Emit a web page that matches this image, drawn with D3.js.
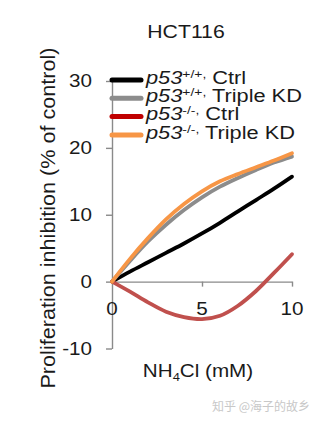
<!DOCTYPE html>
<html>
<head>
<meta charset="utf-8">
<script src="https://cdn.jsdelivr.net/npm/d3@7"></script>
<style>
  html, body { margin: 0; padding: 0; background: #fff; }
  svg { display: block; }
  text { font-family: "Liberation Sans", Arial, sans-serif; fill: #1a1a1a; }
</style>
</head>
<body>
<svg id="chart" width="332" height="427"></svg>
<script>
// ---- data ----
const doses = [0, 1, 2, 3, 4, 5, 6, 7, 8, 9, 10];
const wtCtrl = [0, 1.5, 2.9, 4.3, 5.7, 7.2, 8.8, 10.5, 12.2, 13.9, 15.7];
const wtTripleKD = [0, 3.1, 6.0, 8.5, 10.7, 12.6, 14.2, 15.5, 16.7, 17.8, 18.7];
const koCtrl = [0, -1.5, -3.1, -4.5, -5.3, -5.6, -5.1, -3.6, -1.4, 1.3, 4.1];
const koTripleKD = [0, 3.4, 6.5, 9.3, 11.6, 13.5, 15.0, 16.1, 17.1, 18.1, 19.2];
const yTicks = [-10, 0, 10, 20, 30];
const xTicks = [0, 5, 10];
const seriesNames = ["wtCtrl", "wtTripleKD", "koCtrl", "koTripleKD"];
const legendSup = ["+/+,", "+/+,", "-/-,", "-/-,"];
const legendRest = [" Ctrl", " Triple KD", " Ctrl", " Triple KD"];

const series = [
  { name: "wtCtrl", values: wtCtrl, color: "#000000", legendColor: "#000000" },
  { name: "wtTripleKD", values: wtTripleKD, color: "#8c8c8c", legendColor: "#8c8c8c" },
  { name: "koCtrl", values: koCtrl, color: "#c0504d", legendColor: "#c00000" },
  { name: "koTripleKD", values: koTripleKD, color: "#f79646", legendColor: "#f79646" }
];

const svg = d3.select("#chart");
const SX = 1.18;     // horizontal stretch of the reference text
const FS = 17.5;

const x = d3.scaleLinear().domain([0, 10]).range([112, 292]);
const y = d3.scaleLinear().domain([-10, 30]).range([348.5, 81]);
const axisColor = "#8a8a8a";

// title
svg.append("text")
  .attr("transform", `translate(186,38) scale(${SX},1)`)
  .attr("text-anchor", "middle")
  .style("font-size", "18px")
  .text("HCT116");

// y axis
const yAxis = svg.append("g").attr("transform", `translate(${x(0)},0)`)
  .call(d3.axisLeft(y).tickValues(yTicks).tickSize(6).tickSizeOuter(0).tickFormat(""));
yAxis.selectAll("path, line").attr("stroke", axisColor).attr("stroke-width", 1.4);

svg.append("g").selectAll("text").data(yTicks).join("text")
  .attr("transform", d => `translate(92,${y(d) + 6.3}) scale(${SX},1)`)
  .attr("text-anchor", "end")
  .style("font-size", FS + "px")
  .text(d => d);

// x axis at y=0
const xAxis = svg.append("g").attr("transform", `translate(0,${y(0)})`)
  .call(d3.axisBottom(x).tickValues(xTicks.filter(d => d !== 0)).tickSize(5).tickSizeOuter(0).tickFormat(""));
xAxis.selectAll("path, line").attr("stroke", axisColor).attr("stroke-width", 1.4);

svg.append("g").selectAll("text").data(xTicks).join("text")
  .attr("transform", d => `translate(${x(d)},315) scale(${SX},1)`)
  .attr("text-anchor", "middle")
  .style("font-size", FS + "px")
  .text(d => d);

// x label
const xl = svg.append("text")
  .attr("transform", `translate(198,377) scale(${SX},1)`)
  .attr("text-anchor", "middle")
  .style("font-size", FS + "px");
xl.append("tspan").text("NH");
xl.append("tspan").attr("dy", 4).style("font-size", "11px").text("4");
xl.append("tspan").attr("dy", -4).text("Cl (mM)");

// y label
svg.append("text")
  .attr("transform", `translate(55,218) rotate(-90) scale(1.12,1)`)
  .attr("text-anchor", "middle")
  .style("font-size", "19.3px")
  .text("Proliferation inhibition (% of control)");

// lines
const line = d3.line()
  .x((d, i) => x(doses[i]))
  .y(d => y(d))
  .curve(d3.curveCatmullRom);

svg.append("g").selectAll("path").data(series).join("path")
  .attr("d", s => line(s.values))
  .attr("fill", "none")
  .attr("stroke", s => s.color)
  .attr("stroke-width", 3.8)
  .attr("stroke-linejoin", "round")
  .attr("stroke-linecap", "round");

// legend
const legY = [80, 98.3, 116.6, 135];
const leg = svg.append("g");
series.forEach((s, i) => {
  leg.append("line")
    .attr("x1", 112).attr("x2", 141)
    .attr("y1", legY[i]).attr("y2", legY[i])
    .attr("stroke", s.legendColor)
    .attr("stroke-width", 5)
    .attr("stroke-linecap", "round");
  const t = leg.append("text")
    .attr("transform", `translate(146,${legY[i] + 3.5}) scale(1.21,1)`)
    .style("font-size", "18px");
  t.append("tspan").style("font-style", "italic").text("p53");
  t.append("tspan").attr("dy", -6).style("font-size", "11.5px").text(legendSup[i]);
  t.append("tspan").attr("dy", 6).text(legendRest[i]);
});

// watermark
svg.append("text")
  .attr("x", 212).attr("y", 411)
  .style("font-family", "'Noto Sans CJK SC', sans-serif")
  .style("font-size", "12px")
  .style("fill", "#c8c8c8")
  .text("知乎 @海子的故乡");
</script>
</body>
</html>
